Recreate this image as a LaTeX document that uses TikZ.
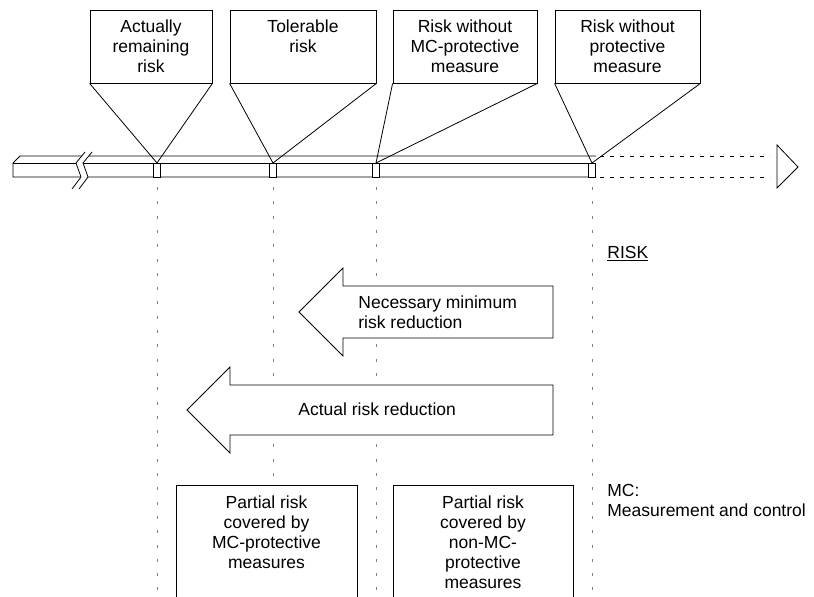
\documentclass[tikz,border=0pt]{standalone}
\usepackage{fontspec}
\setmainfont{Liberation Sans}
\usetikzlibrary{positioning}
\begin{document}
\begin{tikzpicture}[x=1pt, y=-1pt, line width=0.8pt,
    lbl/.style={font=\fontsize{17.5}{20}\selectfont, inner sep=0pt, align=center, anchor=north},
    topbox/.style={draw, minimum height=73pt, inner sep=0pt},
    guide/.style={gray, line width=0.7pt, dash pattern=on 3pt off 11.3pt},
    dots/.style={dash pattern=on 4pt off 6pt}]
  \useasboundingbox (0,0) rectangle (814,597);
  \coordinate (base) at (0,597);

  % boxes along the top
  \node[topbox, minimum width=122pt] (actual) at (151,46.5) {};
  \node[topbox, minimum width=146pt] (tolerable) at (303,46.5) {};
  \node[topbox, minimum width=144pt] (withoutmc) at (465,46.5) {};
  \node[topbox, minimum width=145pt] (without) at (627.5,46.5) {};
  \node[lbl, below=9.5pt of actual.north] (actualtxt) {Actually\\remaining\\risk};
  \node[lbl, below=9.5pt of tolerable.north] (tolerabletxt) {Tolerable\\risk};
  \node[lbl, below=9.5pt of withoutmc.north] (withoutmctxt) {Risk without\\MC-protective\\measure};
  \node[lbl, below=9.5pt of without.north] (withouttxt) {Risk without\\protective\\measure};

  % marks on the scale
  \coordinate (t1) at (157,163);
  \coordinate (t2) at (273,163);
  \coordinate (t3) at (376,163);
  \coordinate (t4) at (592,163);

  % the scale bar
  \draw (596,156) -- (20,156) -- (13,163) -- (13,177) -- (596,177);
  \draw (13,163) -- (596,163);
  \fill[white] (85,152) -- (76,163) -- (81,177) -- (72,189) -- (79,189) -- (88,177) -- (83,163) -- (92,152) -- cycle;
  \draw (85,152) -- (76,163) -- (81,177) -- (72,189);
  \draw (92,152) -- (83,163) -- (88,177) -- (79,189);
  \foreach \t in {t1,t2,t3,t4}
    \draw[fill=white] ([xshift=-3.5pt]\t) rectangle ++(7,14);
  \draw[dots] (600,156) -- (770,156);
  \draw[dots] (600,177) -- (770,177);
  \draw (777,145) -- (798,167) -- (777,188) -- cycle;

  % funnels from the boxes down to the marks
  \draw (actual.south west) -- (t1) -- (actual.south east);
  \draw (tolerable.south west) -- (t2) -- (tolerable.south east);
  \draw (withoutmc.south west) -- (t3) -- (withoutmc.south east);
  \draw (without.south west) -- (t4) -- (without.south east);

  \foreach \t in {t1,t2,t3,t4}
    \draw[guide] ([yshift=-24pt]\t) -- (\t |- base);

  \node[lbl, anchor=north west] (risk) at (607,246) {\underline{RISK}};

  % reduction arrows
  \draw[fill=white] (553,286) -- (343,286) -- (343,268) -- (299,312) -- (343,356) -- (343,338) -- (553,338) -- cycle;
  \node[lbl, anchor=north west, align=left] (minred) at (358,295) {Necessary minimum\\risk reduction};
  \draw[fill=white] (553,385) -- (230,385) -- (230,367) -- (187,410) -- (230,453) -- (230,435) -- (553,435) -- cycle;
  \node[lbl, anchor=north west] (actred) at (298,402) {Actual risk reduction};

  % partial risks
  \draw[fill=white] (176,600) |- (357,485) -- (357,600);
  \draw[fill=white] (393,600) |- (573,485) -- (573,600);
  \node[lbl] (mcpart) at (266.5,495) {Partial risk\\covered by\\MC-protective\\measures};
  \node[lbl] (nonmcpart) at (483,495) {Partial risk\\covered by\\non-MC-\\protective\\measures};

  \node[lbl, anchor=north west, align=left] (mc) at (607,484) {MC:\\Measurement and control};
\end{tikzpicture}
\end{document}
